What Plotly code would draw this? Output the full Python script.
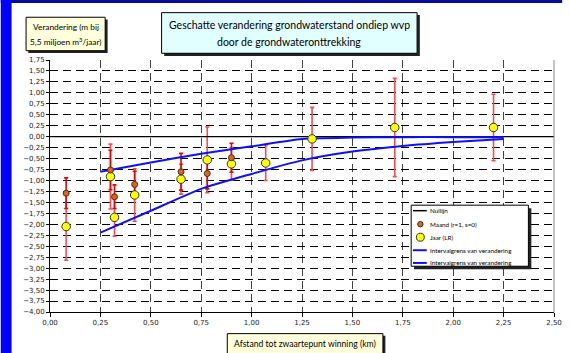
import plotly.graph_objects as go

# ---------------- data ----------------
maand_x = [0.08, 0.30, 0.32, 0.42, 0.65, 0.78, 0.90]
maand_y = [-1.29, -0.76, -1.37, -1.09, -0.80, -0.84, -0.48]
maand_err = [0.35, 0.45, 0.27, 0.30, 0.42, 0.35, 0.33]

jaar_x = [0.08, 0.30, 0.32, 0.42, 0.65, 0.78, 0.90, 1.07, 1.30, 1.71, 2.20]
jaar_y = [-2.05, -0.91, -1.84, -1.33, -0.97, -0.53, -0.62, -0.60, -0.05, 0.21, 0.21]
jaar_err = [0.77, 0.74, 0.43, 0.60, 0.34, 0.75, 0.37, 0.40, 0.72, 1.12, 0.76]

grens_x = [0.25, 0.50, 0.75, 1.00, 1.25, 1.50, 1.75, 2.00, 2.25]
grens_boven = [-0.80, -0.59, -0.39, -0.22, -0.05, -0.02, -0.01, -0.01, -0.01]
grens_onder = [-2.19, -1.69, -1.19, -0.85, -0.54, -0.34, -0.21, -0.12, -0.05]

null_x = [0.0, 2.5]
null_y = [0.0, 0.0]

x_ticks = [i * 0.25 for i in range(11)]
y_ticks = [-4 + i * 0.25 for i in range(24)]

title_lines = ["Geschatte verandering grondwaterstand ondiep wvp", "door de grondwateronttrekking"]
ylabel_lines = ["Verandering (m bij", "5,5 miljoen m<sup>3</sup>/jaar)"]
xlabel = "Afstand tot zwaartepunt winning (km)"
legend_labels = ["Nullijn", "Maand (r=1, s=0)", "Jaar (LR)",
                 "Intervalgrens van verandering", "Intervalgrens van verandering"]

# ---------------- geometry ----------------
W, H = 570, 353
X0, X1, Y0, Y1 = 50, 561.7, 60, 311.7


def px(x):
    return (x - X0) / (X1 - X0)


def py(y):
    return (Y1 - y) / (Y1 - Y0)


FONT = "Lato, 'Open Sans', sans-serif"
TICKFONT = "'DejaVu Sans', sans-serif"
BLUE = "#1010ff"
ORANGE = "#e8640c"
YELLOW = "#ffff00"

fig = go.Figure()

# error bars (drawn below the markers)
fig.add_trace(go.Scatter(x=jaar_x, y=jaar_y, mode="markers",
                         marker=dict(size=1, color="rgba(0,0,0,0)"),
                         error_y=dict(type="data", array=jaar_err, color="#ff4a4a",
                                      thickness=1.6, width=2),
                         showlegend=False, hoverinfo="skip"))
fig.add_trace(go.Scatter(x=maand_x, y=maand_y, mode="markers",
                         marker=dict(size=1, color="rgba(0,0,0,0)"),
                         error_y=dict(type="data", array=maand_err, color="#ee0000",
                                      thickness=1.6, width=2),
                         showlegend=False, hoverinfo="skip"))

fig.add_trace(go.Scatter(x=null_x, y=null_y, mode="lines", name=legend_labels[0],
                         line=dict(color="black", width=1.3)))
fig.add_trace(go.Scatter(x=grens_x, y=grens_boven, mode="lines", name=legend_labels[3],
                         line=dict(color=BLUE, width=2, shape="spline", smoothing=0.6)))
fig.add_trace(go.Scatter(x=grens_x, y=grens_onder, mode="lines", name=legend_labels[4],
                         line=dict(color=BLUE, width=2, shape="spline", smoothing=0.6)))
fig.add_trace(go.Scatter(x=jaar_x, y=jaar_y, mode="markers", name=legend_labels[2],
                         marker=dict(size=8.5, color=YELLOW, line=dict(color="#333", width=1))))
fig.add_trace(go.Scatter(x=maand_x, y=maand_y, mode="markers", name=legend_labels[1],
                         marker=dict(size=6, color=ORANGE, line=dict(color="#333", width=1))))

shapes = []
annotations = []


def rect(x0, y0, x1, y1, fill, line_color=None, lw=1, layer="above"):
    shapes.append(dict(type="rect", xref="paper", yref="paper",
                       x0=px(x0), x1=px(x1), y0=py(y1), y1=py(y0),
                       fillcolor=fill, layer=layer,
                       line=dict(color=line_color or fill, width=lw if line_color else 0)))


def text(x, y, s, size, xanchor="center", family=FONT):
    annotations.append(dict(xref="paper", yref="paper", x=px(x), y=py(y), text=s,
                            showarrow=False, xanchor=xanchor, yanchor="middle",
                            font=dict(family=family, size=size, color="black")))


# frame decorations
rect(0, 0, W, 3, "#0a0a9a")
rect(0, 0, 11, H, "#0000ff")
shapes.append(dict(type="line", xref="paper", yref="paper", x0=1, x1=1, y0=0, y1=1,
                   line=dict(color="#888", width=1)))

# title box
rect(166, 15, 425.5, 56, "#222")
rect(163.3, 12.7, 422.7, 53.3, "#e2ffff", "black", 1)
text(293, 25.5, title_lines[0], 10.5)
text(293, 42, title_lines[1], 10.5)

# y label box
rect(28, 19.5, 108.5, 53, "#222")
rect(25.7, 17.3, 106, 50.7, "#ffffdc", "black", 1)
text(66, 27, ylabel_lines[0], 8.3)
text(66, 42, ylabel_lines[1], 8.3)

# x label box
rect(232.5, 335.5, 390.5, 360, "#222")
rect(230, 333.3, 388, 358, "#ffffdc", "black", 1)
text(309, 344, xlabel, 8.6)

# legend
rect(419.7, 208, 538.7, 269, "#222")
rect(416.7, 205, 535.7, 266, "white", "black", 1)
rows = [210.5, 224, 237, 250, 262.7]
line_items = [(0, "black", 1.5), (3, BLUE, 2), (4, BLUE, 2)]
for idx, col, w in line_items:
    shapes.append(dict(type="line", xref="paper", yref="paper",
                       x0=px(418.5), x1=px(432.5), y0=py(rows[idx]), y1=py(rows[idx]),
                       line=dict(color=col, width=w)))
for idx, col, d in [(1, ORANGE, 5.5), (2, YELLOW, 8)]:
    shapes.append(dict(type="circle", xref="paper", yref="paper",
                       x0=px(426 - d / 2), x1=px(426 + d / 2),
                       y0=py(rows[idx] + d / 2), y1=py(rows[idx] - d / 2),
                       fillcolor=col, line=dict(color="#333", width=1)))
for i, lab in enumerate(legend_labels):
    text(434, rows[i], lab, 6.3, xanchor="left")

fig.update_layout(
    width=W, height=H,
    margin=dict(l=X0, r=W - X1, t=Y0, b=H - Y1),
    paper_bgcolor="white", plot_bgcolor="white",
    separators=",.",
    showlegend=False,
    shapes=shapes, annotations=annotations,
    xaxis=dict(range=[0, 2.5], tickvals=x_ticks, tickformat=".2f",
               showgrid=True, gridcolor="#444", gridwidth=1, griddash="8px,5px",
               showline=True, linecolor="black", linewidth=1,
               ticks="outside", ticklen=4, tickcolor="black",
               tickfont=dict(family=TICKFONT, size=7, color="#222"),
               zeroline=False, fixedrange=True),
    yaxis=dict(range=[-4, 1.75], tickvals=y_ticks, tickformat=".2f",
               showgrid=True, gridcolor="black", gridwidth=1, griddash="8px,5px",
               showline=True, linecolor="black", linewidth=1,
               ticks="outside", ticklen=3, tickcolor="black",
               tickfont=dict(family=TICKFONT, size=7, color="#222"),
               zeroline=False, fixedrange=True),
)

fig.write_html("out.html")
